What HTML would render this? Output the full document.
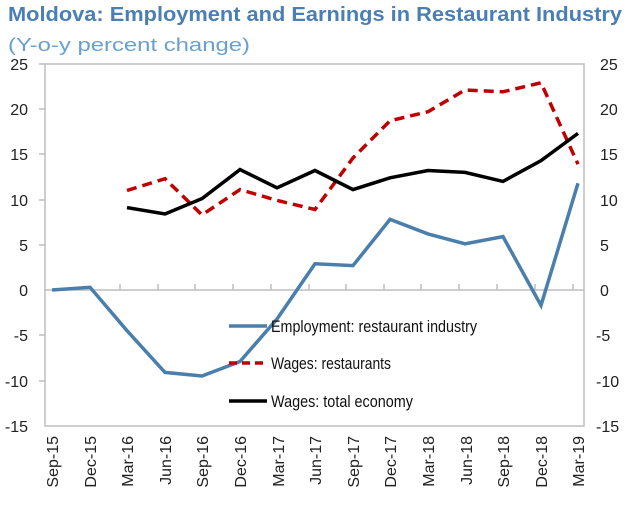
<!DOCTYPE html>
<html><head><meta charset="utf-8"><style>body{margin:0;background:#fff}</style></head><body>
<svg width="636" height="504" xmlns="http://www.w3.org/2000/svg" font-family="Liberation Sans, sans-serif">
<text x="8" y="21" font-size="20" font-weight="bold" fill="#4a7fb5" textLength="614" lengthAdjust="spacingAndGlyphs">Moldova: Employment and Earnings in Restaurant Industry</text>
<text x="8" y="51" font-size="18" fill="#6aa0d0" textLength="242" lengthAdjust="spacingAndGlyphs">(Y-o-y percent change)</text>
<rect x="45" y="64" width="539" height="362" fill="none" stroke="#bdbdbd" stroke-width="1.5"/>
<line x1="45" y1="290" x2="584" y2="290" stroke="#bdbdbd" stroke-width="1.5"/>
<g stroke="#bdbdbd" stroke-width="1.5">
<line x1="120" y1="284" x2="120" y2="290"/><line x1="158" y1="284" x2="158" y2="290"/><line x1="195" y1="284" x2="195" y2="290"/><line x1="233" y1="284" x2="233" y2="290"/><line x1="271" y1="284" x2="271" y2="290"/><line x1="309" y1="284" x2="309" y2="290"/><line x1="346" y1="284" x2="346" y2="290"/><line x1="384" y1="284" x2="384" y2="290"/><line x1="421" y1="284" x2="421" y2="290"/><line x1="459" y1="284" x2="459" y2="290"/><line x1="497" y1="284" x2="497" y2="290"/><line x1="535" y1="284" x2="535" y2="290"/><line x1="573" y1="284" x2="573" y2="290"/>
<line x1="39" y1="64" x2="45" y2="64"/><line x1="39" y1="109" x2="45" y2="109"/><line x1="39" y1="154" x2="45" y2="154"/><line x1="39" y1="200" x2="45" y2="200"/><line x1="39" y1="245" x2="45" y2="245"/><line x1="39" y1="335" x2="45" y2="335"/><line x1="39" y1="381" x2="45" y2="381"/>
</g>
<g font-size="16" fill="#222" text-anchor="end">
<text x="28" y="70">25</text><text x="28" y="115">20</text><text x="28" y="160">15</text><text x="28" y="206">10</text><text x="28" y="251">5</text><text x="28" y="296">0</text><text x="28" y="341">-5</text><text x="28" y="387">-10</text><text x="28" y="432">-15</text>
</g>
<g font-size="16" fill="#222" text-anchor="start">
<text x="600" y="70">25</text><text x="600" y="115">20</text><text x="600" y="160">15</text><text x="600" y="206">10</text><text x="600" y="251">5</text><text x="600" y="296">0</text><text x="596" y="341">-5</text><text x="596" y="387">-10</text><text x="596" y="432">-15</text>
</g>
<g font-size="16" fill="#222" text-anchor="end">
<text transform="translate(58,436) rotate(-90)">Sep-15</text>
<text transform="translate(96,436) rotate(-90)">Dec-15</text>
<text transform="translate(133,436) rotate(-90)">Mar-16</text>
<text transform="translate(171,436) rotate(-90)">Jun-16</text>
<text transform="translate(208,436) rotate(-90)">Sep-16</text>
<text transform="translate(246,436) rotate(-90)">Dec-16</text>
<text transform="translate(284,436) rotate(-90)">Mar-17</text>
<text transform="translate(321,436) rotate(-90)">Jun-17</text>
<text transform="translate(359,436) rotate(-90)">Sep-17</text>
<text transform="translate(396,436) rotate(-90)">Dec-17</text>
<text transform="translate(434,436) rotate(-90)">Mar-18</text>
<text transform="translate(472,436) rotate(-90)">Jun-18</text>
<text transform="translate(509,436) rotate(-90)">Sep-18</text>
<text transform="translate(547,436) rotate(-90)">Dec-18</text>
<text transform="translate(584,436) rotate(-90)">Mar-19</text>
</g>
<polyline fill="none" stroke="#c00000" stroke-width="3.5" stroke-dasharray="10,6" points="127,190.5 165,178.7 202,214.9 240,189.6 277,200.4 315,209.5 353,157.9 390,120.8 428,111.7 465,90 503,91.8 541,82.8 578,164.2"/>
<polyline fill="none" stroke="#000" stroke-width="3.5" points="127,207.6 165,214 202,198.6 240,169.6 277,187.8 315,170.5 353,189.6 390,177.8 428,170.5 465,172.4 503,181.4 541,160.6 578,133.4"/>
<polyline fill="none" stroke="#4a7eab" stroke-width="3.5" points="52,290 90,287.3 127,330.7 165,372.4 202,376 240,361.5 277,319 315,263.8 353,265.6 390,219.4 428,233.9 465,243.8 503,236.6 541,305.4 578,183.2"/>
<line x1="229" y1="326" x2="267" y2="326" stroke="#4a7eab" stroke-width="3.5"/>
<line x1="229" y1="363" x2="267" y2="363" stroke="#c00000" stroke-width="3.5" stroke-dasharray="8,5"/>
<line x1="229" y1="401" x2="267" y2="401" stroke="#000" stroke-width="3.5"/>
<g font-size="17" fill="#111">
<text x="271" y="332" textLength="206" lengthAdjust="spacingAndGlyphs">Employment: restaurant industry</text>
<text x="271" y="369" textLength="120" lengthAdjust="spacingAndGlyphs">Wages: restaurants</text>
<text x="271" y="407" textLength="142" lengthAdjust="spacingAndGlyphs">Wages: total economy</text>
</g>
</svg>
</body></html>
